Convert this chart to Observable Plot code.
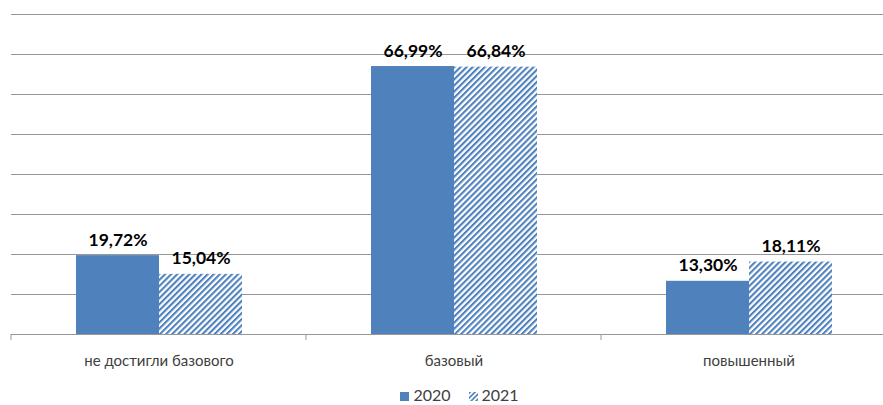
<!DOCTYPE html>
<html><head><meta charset="utf-8">
<script src="https://cdn.jsdelivr.net/npm/d3@7"></script>
<script src="https://cdn.jsdelivr.net/npm/@observablehq/plot@0.6"></script>
<style>
html,body{margin:0;background:#fff;font-family:Lato,"Noto Sans",sans-serif;overflow:hidden;}
#chart{height:378px;}
#legend{display:flex;justify-content:center;gap:18px;font-size:16px;line-height:18px;color:#404040;margin-left:36px;height:26px;align-items:flex-end;}
.sw{display:inline-block;width:9px;height:9px;margin-right:4px;vertical-align:middle;}
</style></head><body>
<div id="chart"></div>
<div id="legend"></div>
<script>
const categories = ["не достигли базового", "базовый", "повышенный"];
const years = ["2020", "2021"];
const values2020 = [19.72, 66.99, 13.30];
const values2021 = [15.04, 66.84, 18.11];
const yTicks = [0, 10, 20, 30, 40, 50, 60, 70, 80];

const data = [];
categories.forEach((c, i) => {
  data.push({cat: c, year: "2020", v: values2020[i]});
  data.push({cat: c, year: "2021", v: values2021[i]});
});
const fmt = v => v.toFixed(2).replace(".", ",") + "%";
const blue = "#4F81BD";

const plot = Plot.plot({
  width: 883,
  height: 378,
  marginLeft: 11,
  marginRight: -13,
  marginTop: 14,
  marginBottom: 44,
  style: {fontFamily: "Lato, 'Noto Sans', sans-serif", fontSize: "15px", color: "#404040", overflow: "hidden", display: "block"},
  facet: {data, x: "cat", marginBottom: 44},
  fx: {domain: categories, padding: 0, label: null, tickSize: 0, tickPadding: 21},
  x: {domain: years, axis: null, paddingInner: 0, paddingOuter: 0.756},
  y: {domain: [0, 80], axis: null},
  marks: [
    Plot.ruleY(yTicks, {stroke: "#979797", strokeWidth: 1.2}),
    Plot.barY(data, {x: "year", y: "v", fill: d => d.year === "2020" ? blue : "url(#hatch)", insetLeft: 0, insetRight: 0}),
    Plot.text(data, {x: "year", y: "v", text: d => fmt(d.v), lineAnchor: "bottom", dy: -10, fontSize: 17.5, fontWeight: "bold", fill: "#000"})
  ]
});
document.getElementById("chart").appendChild(plot);

const svg = d3.select(plot);
const defs = svg.insert("defs", ":first-child");
const pat = defs.append("pattern").attr("id", "hatch").attr("patternUnits", "userSpaceOnUse")
  .attr("width", 4.3).attr("height", 4.3).attr("patternTransform", "rotate(45)");
pat.append("rect").attr("width", 4.3).attr("height", 4.3).attr("fill", "#fff");
pat.append("rect").attr("width", 2.1).attr("height", 4.3).attr("fill", blue);

// category boundary tick marks from the fx scale
const fx = plot.scale("fx");
const bw = (fx.range[1] - fx.range[0]) / categories.length;
const y0 = plot.scale("y").apply(0);
const bounds = d3.range(categories.length + 1).map(i => fx.range[0] + i * bw);
svg.append("g").selectAll("line").data(bounds).join("line")
  .attr("x1", d => d).attr("x2", d => d).attr("y1", y0).attr("y2", y0 + 6)
  .attr("stroke", "#979797");

// legend
const lg = d3.select("#legend");
years.forEach(yr => {
  const it = lg.append("span");
  if (yr === "2020") it.append("span").attr("class", "sw").style("background", blue);
  else it.append("svg").attr("width", 9).attr("height", 9).style("margin-right", "4px").style("vertical-align", "middle")
    .html(`<defs><pattern id="hl" patternUnits="userSpaceOnUse" width="3.5" height="3.5" patternTransform="rotate(45)"><rect width="3.5" height="3.5" fill="#fff"/><rect width="1.7" height="3.5" fill="${blue}"/></pattern></defs><rect width="9" height="9" fill="url(#hl)"/>`);
  it.append("span").text(yr);
});
</script></body></html>
